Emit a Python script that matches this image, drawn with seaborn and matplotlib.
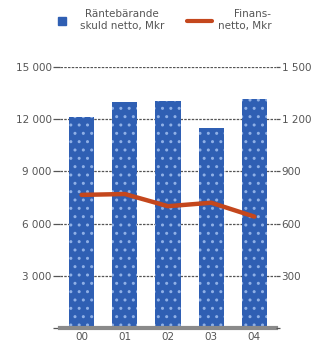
import numpy as np
import pandas as pd
import matplotlib
matplotlib.use("Agg")
import matplotlib.pyplot as plt
import seaborn as sns
from matplotlib.lines import Line2D

years = ['00', '01', '02', '03', '04']
skuld_netto = [12100, 13000, 13050, 11500, 13150]   # Räntebärande skuld netto, Mkr (left axis)
finansnetto = [765, 770, 700, 720, 640]             # Finansnetto, Mkr (right axis)

bar_color = '#2f5fb3'
line_color = '#c4471d'
grid_color = '#555555'
text_color = '#555555'

sns.set_style('white')
plt.rcParams['font.family'] = ['DejaVu Sans']
plt.rcParams['hatch.linewidth'] = 1.0

df = pd.DataFrame({'year': years, 'skuld': skuld_netto, 'finans': finansnetto})

fig = plt.figure(figsize=(3.12, 3.43), dpi=100)
ax = fig.add_axes([60 / 312, 1 - 328 / 343, 216 / 312, 261 / 343])

sns.barplot(data=df, x='year', y='skuld', ax=ax, color=bar_color, width=0.58,
            saturation=1, edgecolor='#8fb0e6', linewidth=0, hatch='..')
for p in ax.patches:
    p.set_facecolor(bar_color)

ax.set_ylim(0, 15000)
ax.set_yticks(np.arange(0, 15001, 3000))
ax.set_yticklabels(['', '3 000', '6 000', '9 000', '12 000', '15 000'])
ax.set_axisbelow(True)
ax.yaxis.grid(True, color=grid_color, linestyle=(0, (2, 1)), linewidth=0.9)
ax.set_xlabel('')
ax.set_ylabel('')
ax.set_xlim(-0.5, 4.5)

ax2 = ax.twinx()
sns.lineplot(x=np.arange(len(years)), y=finansnetto, ax=ax2, color=line_color, linewidth=3.2)
ax2.set_ylim(0, 1500)
ax2.set_yticks(np.arange(0, 1501, 300))
ax2.set_yticklabels(['', '300', '600', '900', '1 200', '1 500'])
ax2.set_ylabel('')

for a in (ax, ax2):
    for s in ('top', 'left', 'right', 'bottom'):
        a.spines[s].set_visible(False)
    a.tick_params(axis='y', length=5, width=0.9, color=grid_color, pad=1,
                  labelsize=7.5, labelcolor=text_color)
ax2.tick_params(axis='y', length=3, pad=1)
ax.spines['bottom'].set_visible(True)
ax.spines['bottom'].set_color('#8a8a8a')
ax.spines['bottom'].set_linewidth(3)
ax.tick_params(axis='x', length=0, pad=3, labelsize=7.5, labelcolor=text_color)

handles = [
    Line2D([], [], marker='s', linestyle='none', color=bar_color, markersize=6),
    Line2D([], [], color=line_color, linewidth=3),
]
labels = ['Räntebärande\nskuld netto, Mkr', 'Finans-\nnetto, Mkr']
leg = fig.legend(handles, labels, loc='upper center', bbox_to_anchor=(0.514, 1.0), ncol=2,
                 frameon=False, fontsize=7.5, handlelength=2.4, handletextpad=0.5,
                 columnspacing=2.25, labelcolor=text_color)
leg.get_texts()[0].set_multialignment('center')
leg.get_texts()[1].set_multialignment('right')

fig.savefig('out.png', dpi=100)
